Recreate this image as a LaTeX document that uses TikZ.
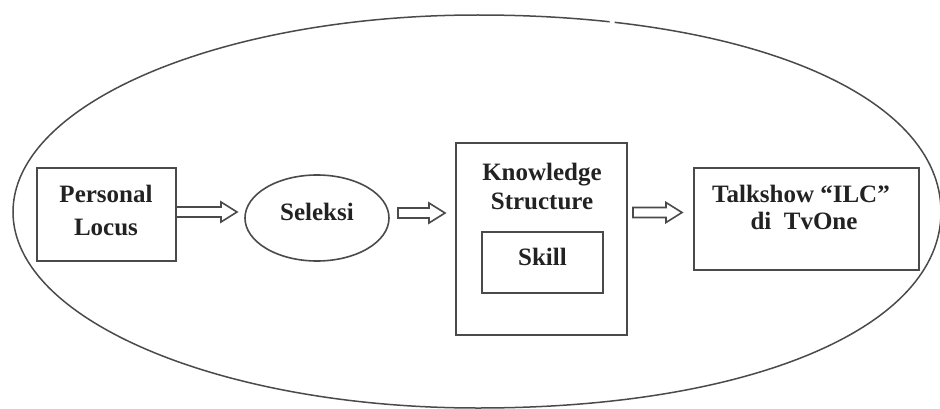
\documentclass[tikz,border=0pt]{standalone}
\usepackage{fontspec}
\setmainfont{Liberation Serif}
\usetikzlibrary{shapes.geometric,calc}
\definecolor{linegray}{HTML}{4A4A4A}
\definecolor{textdark}{HTML}{222222}
\tikzset{
  boxnode/.style={draw=linegray, line width=1.8pt, rectangle, inner sep=0pt, outer sep=0pt},
  ovalnode/.style={draw=linegray, line width=1.6pt, ellipse, inner sep=0pt, outer sep=0pt},
  txt/.style={anchor=base, inner sep=0pt, text=textdark, font=\fontsize{25}{30}\selectfont\bfseries},
  hollowarrow/.style={draw=linegray, line width=1.6pt, line join=miter},
  bigoval/.style={draw=linegray, line width=1.5pt}
}
\newcommand{\harrow}[5]{%
  \draw[hollowarrow] let \p1=(#1.east), \p2=(#2.west) in
    (\x1+#3pt, #5pt+5pt) -- (\x2-#4pt-16pt, #5pt+5pt) -- (\x2-#4pt-16pt, #5pt+10pt)
    -- (\x2-#4pt, #5pt) -- (\x2-#4pt-16pt, #5pt-10pt) -- (\x2-#4pt-16pt, #5pt-5pt)
    -- (\x1+#3pt, #5pt-5pt) -- cycle;}
\begin{document}
\begin{tikzpicture}[x=1pt,y=1pt]
\useasboundingbox (0,0) rectangle (940,408);
% big surrounding oval (fuller on the right), with a small gap at the top
\begin{scope}[even odd rule]
  \clip (-5,-5) rectangle (945,413) (609.5,370) rectangle (614.5,405);
  \draw[bigoval] (941,196) .. controls (941,312.2) and (751.2,393) .. (478,393)
    .. controls (221.3,393) and (13,304.7) .. (13,196)
    .. controls (13,87.8) and (221.3,0) .. (478,0)
    .. controls (751.2,0) and (941,80.4) .. cycle;
\end{scope}
% boxes
\node[boxnode, minimum width=139pt, minimum height=93pt] (pl) at (106.5,193.5) {};
\node[ovalnode, minimum width=144pt, minimum height=86pt] (sel) at (317,190) {};
\node[boxnode, minimum width=171pt, minimum height=192pt] (kn) at (541.5,169) {};
\node[boxnode, minimum width=121pt, minimum height=61pt] (sk) at (542.5,145.5) {};
\node[boxnode, minimum width=225pt, minimum height=102pt] (tk) at (806.5,189) {};
% texts
\node[txt] (pl1) at (106,206) {Personal};
\node[txt] (pl2) at (106,173) {Locus};
\node[txt] (selt) at (317,188) {Seleksi};
\node[txt] (kn1) at (542,228) {Knowledge};
\node[txt] (kn2) at (542,199) {Structure};
\node[txt] (skt) at (542.5,143) {Skill};
\node[txt] (tk1) at (801,206) {Talkshow “ILC”};
\node[txt] (tk2) at (804,179) {di\hspace{0.5em}TvOne};
% hollow arrows
\harrow{pl}{sel}{0}{8}{196}
\harrow{sel}{kn}{9}{11}{195}
\harrow{kn}{tk}{6}{12}{195.5}
\end{tikzpicture}
\end{document}
